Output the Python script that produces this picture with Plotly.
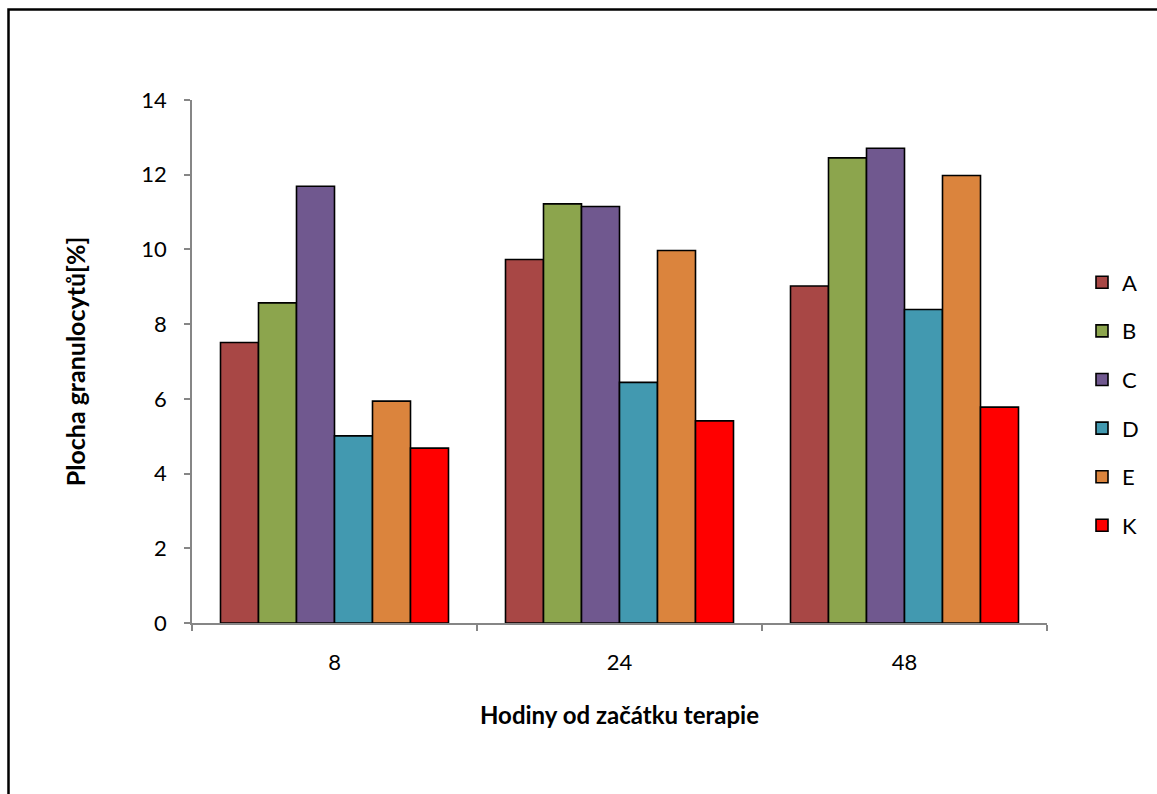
import plotly.graph_objects as go

categories = ["8", "24", "48"]
series_names = ["A", "B", "C", "D", "E", "K"]
values_A = [7.51, 9.73, 9.02]
values_B = [8.57, 11.22, 12.45]
values_C = [11.69, 11.15, 12.71]
values_D = [5.01, 6.44, 8.39]
values_E = [5.94, 9.97, 11.98]
values_K = [4.68, 5.41, 5.78]
colors = ["#A84745", "#8CA54D", "#70588F", "#4299B0", "#DB843D", "#FF0000"]
y_ticks = [0, 2, 4, 6, 8, 10, 12, 14]

all_values = [values_A, values_B, values_C, values_D, values_E, values_K]

W, H = 1157, 794
L, R, T, B = 192, 110, 100, 171
PW, PH = W - L - R, H - T - B

def px(x):
    return (x - L) / PW

def py(y):
    return (H - B - y) / PH

FONT = "Lato, Carlito, Calibri, 'Open Sans', sans-serif"

fig = go.Figure()
for i, (name, vals) in enumerate(zip(series_names, all_values)):
    fig.add_trace(go.Bar(
        x=categories, y=vals, name=name, legendgroup=name,
        marker=dict(color=colors[i], line=dict(color="black", width=1.6)),
    ))

fig.update_layout(
    width=W, height=H,
    margin=dict(l=L, r=R, t=T, b=B),
    paper_bgcolor="white", plot_bgcolor="white",
    barmode="group", bargap=0.2, bargroupgap=0,
    font=dict(family=FONT, size=22, color="black"),
    showlegend=True,
    legend=dict(
        x=px(1082), y=py(404), xanchor="left", yanchor="middle",
        font=dict(size=22, family=FONT), tracegroupgap=17,
        itemwidth=30, bgcolor="rgba(0,0,0,0)",
    ),
    xaxis=dict(
        type="category", showline=True, linecolor="#868686", linewidth=1.5,
        ticks="outside", tickson="boundaries", ticklen=6, tickcolor="#868686",
        tickwidth=1.5, showgrid=False, ticklabelstandoff=19,
        tickfont=dict(size=22),
        title=dict(text="<b>Hodiny od začátku terapie</b>", font=dict(size=24), standoff=33),
    ),
    yaxis=dict(
        range=[0, 14], tickvals=y_ticks, showline=True, linecolor="#868686",
        linewidth=1.5, ticks="outside", ticklen=6, tickcolor="#868686",
        tickwidth=1.5, showgrid=False, zeroline=False, ticklabelstandoff=13,
        tickfont=dict(size=22),
        title=dict(text="<b>Plocha granulocytů[%]</b>", font=dict(size=25), standoff=49),
    ),
    shapes=[dict(
        type="rect", xref="paper", yref="paper",
        x0=px(8.5), x1=px(1180), y0=py(9.5), y1=py(820),
        line=dict(color="black", width=2.5), fillcolor="rgba(0,0,0,0)", layer="below",
    )],
)

fig.write_html("out.html")
